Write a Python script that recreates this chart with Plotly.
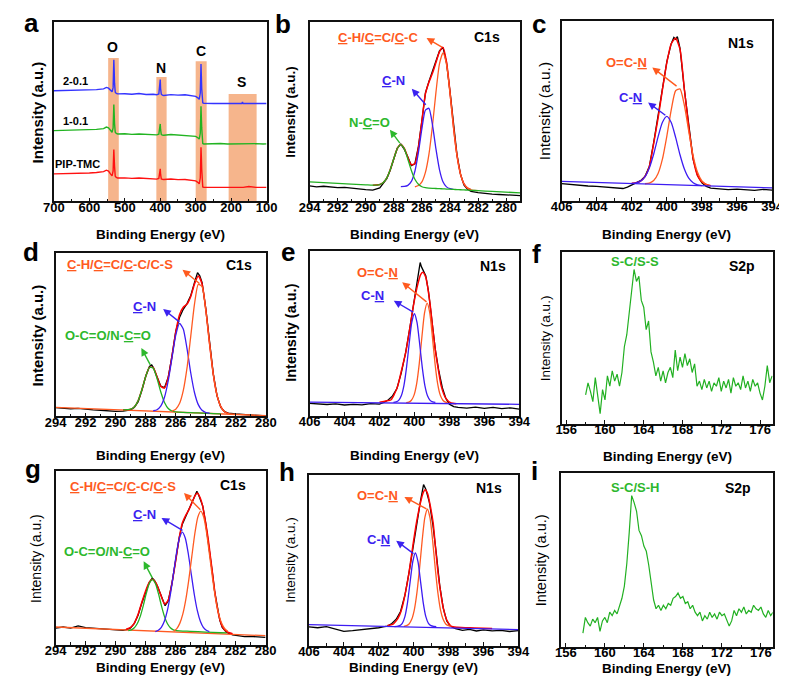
import plotly.graph_objects as go

# ---------------- (a) survey spectra ----------------
a_x = [700, 680, 660, 640, 620, 600, 580, 560, 552, 546, 540, 536, 533, 531, 530, 529, 527, 524, 520,
       500, 480, 460, 440, 420, 410, 404, 401, 400, 399, 397, 394, 390, 370, 350, 330, 310, 300, 294, 290,
       287, 285, 284, 283, 282, 280, 277, 270, 250, 230, 210, 190, 170, 168, 166, 150, 130, 110, 100]
a_2_01 = [61.8, 61.9, 61.7, 62.0, 62.1, 62.2, 62.4, 62.8, 63.6, 63.2, 62.0, 61.2, 63.5, 79.1, 73.0, 66.0, 61.0, 60.3, 60.0,
          60.1, 59.8, 60.2, 59.7, 59.8, 59.5, 60.0, 64.0, 68.0, 63.0, 59.8, 59.3, 59.1, 59.6, 59.3, 59.5, 59.0, 58.6, 57.8, 57.0,
          60.5, 76.7, 70.0, 63.0, 57.0, 55.0, 54.7, 54.6, 54.6, 54.7, 54.5, 54.6, 54.6, 55.4, 54.6, 54.7, 54.5, 54.6, 54.6]
a_1_01 = [39.5, 39.6, 39.4, 39.7, 39.8, 40.0, 40.2, 40.6, 41.5, 41.0, 39.6, 38.6, 41.0, 54.0, 49.0, 43.5, 38.6, 37.9, 37.6,
          37.7, 37.4, 37.6, 37.3, 37.4, 37.1, 37.5, 40.5, 43.2, 40.0, 37.3, 37.0, 36.9, 37.3, 37.0, 37.1, 36.7, 36.3, 35.5, 34.8,
          38.0, 53.1, 47.0, 41.0, 34.5, 32.3, 32.0, 32.1, 32.0, 32.3, 32.0, 32.1, 32.2, 32.0, 32.1, 32.0, 32.2, 32.0, 32.1]
a_pip = [15.3, 15.4, 15.2, 15.6, 15.5, 15.8, 16.1, 16.6, 17.4, 16.9, 15.2, 14.2, 17.0, 28.9, 24.0, 19.5, 14.0, 13.3, 13.0,
         13.1, 12.8, 13.0, 12.7, 12.8, 12.4, 12.8, 15.5, 18.1, 15.0, 12.5, 12.3, 12.2, 12.5, 12.1, 12.2, 11.8, 11.4, 10.6, 9.8,
         13.0, 30.2, 25.0, 18.0, 10.0, 8.0, 7.8, 7.8, 7.9, 7.8, 7.7, 7.8, 7.9, 7.8, 7.8, 8.3, 7.8, 7.8, 7.8]
a_band_names = ["O", "N", "C", "S"]
a_band_lo = [517, 382, 269, 128]
a_band_hi = [547, 411, 300, 207]
a_band_top = [80, 69.5, 78.2, 60]

# ---------------- (b) C1s ----------------
b_raw_x = [294, 293.5, 293, 292.5, 292, 291.5, 291, 290.5, 290, 289.5, 289, 288.75, 288.5, 288.25, 288, 287.75,
           287.5, 287.25, 287, 286.75, 286.5, 286.25, 286, 285.75, 285.5, 285.25, 285, 284.75, 284.5, 284.25, 284,
           283.75, 283.5, 283.25, 283, 282.75, 282.5, 282, 281.5, 281, 280.5, 280, 279.5, 279]
b_raw = [8.6, 8.1, 8.4, 7.9, 7.6, 7.8, 7.2, 6.9, 6.5, 6.2, 7.5, 9.8, 12.6, 17.5, 23.5, 29.8, 32.0, 29.0, 24.8, 20.0,
         21.0, 30.5, 45.0, 60.5, 67.0, 72.5, 78.5, 84.0, 86.0, 77.5, 61.5, 42.0, 26.0, 15.0, 9.0, 6.8, 5.6, 4.8, 4.2,
         4.0, 3.8, 3.6, 3.3, 3.2]
b_env_x = [289.5, 289, 288.75, 288.5, 288.25, 288, 287.75, 287.5, 287.25, 287, 286.75, 286.5, 286.25, 286, 285.75,
           285.5, 285.25, 285, 284.75, 284.5, 284.25, 284, 283.75, 283.5, 283.25, 283, 282.75, 282.5]
b_env = [9.0, 9.4, 10.5, 13.1, 17.8, 23.9, 29.5, 31.7, 29.5, 24.4, 20.4, 21.0, 30.0, 45.0, 60.0, 66.5, 71.5, 77.5,
         83.5, 86.0, 78.0, 61.0, 41.5, 25.5, 15.2, 9.7, 7.4, 6.5]
b_nco_x = [294, 292, 290, 289.5, 289, 288.75, 288.5, 288.25, 288, 287.75, 287.5, 287.25, 287, 286.75, 286.5, 286.25,
           286, 285.75, 285.5, 285.25, 285, 284.75, 284.5, 284.25, 284, 283.75, 283.5, 283.25, 283, 282.75, 282.5,
           282, 281, 279]
b_nco = [10.8, 10.0, 9.2, 9.03, 9.37, 10.5, 13.1, 17.8, 23.9, 29.5, 31.7, 29.3, 23.5, 17.2, 12.3, 9.5, 8.12, 7.6,
         7.38, 7.25, 7.15, 7.05, 6.95, 6.85, 6.75, 6.65, 6.55, 6.45, 6.35, 6.25, 6.15, 5.95, 5.5, 4.7]
b_cn_x = [287.5, 287.25, 287, 286.75, 286.5, 286.25, 286, 285.75, 285.5, 285.25, 285, 284.75, 284.5, 284.25, 284, 283.75]
b_cn = [8.23, 8.3, 8.9, 11.1, 16.8, 27.2, 40.55, 50.95, 51.95, 42.85, 29.25, 17.75, 10.95, 8.05, 7.02, 6.7]
b_ch_x = [286.5, 286.25, 286, 285.75, 285.5, 285.25, 285, 284.75, 284.5, 284.25, 284, 283.75, 283.5, 283.25, 283,
          282.75, 282.5, 282]
b_ch = [8.1, 8.8, 10.85, 16.15, 26.25, 42.05, 60.85, 76.75, 82.95, 76.55, 60.45, 41.45, 25.45, 15.15, 9.65, 7.35,
        6.45, 5.95]

# ---------------- (c) N1s ----------------
c_raw_x = [406, 405.5, 405, 404.5, 404, 403.5, 403, 402.5, 402.25, 402, 401.75, 401.5, 401.25, 401, 400.75, 400.5,
           400.25, 400, 399.75, 399.6, 399.5, 399.4, 399.25, 399, 398.75, 398.5, 398.25, 398, 397.75, 397.5, 397,
           396.5, 396, 395.5, 395, 394.5, 394]
c_raw = [9.5, 9.0, 8.7, 8.2, 8.0, 7.6, 7.2, 6.8, 7.6, 8.9, 9.8, 11.2, 13.5, 19.0, 32.5, 46.5, 62.5, 77.5, 87.5, 91.0,
         90.0, 91.5, 85.0, 62.0, 41.5, 23.0, 14.0, 10.0, 8.0, 7.0, 6.6, 6.2, 6.5, 6.0, 5.8, 6.3, 5.9]
c_env_x = [402, 401.75, 401.5, 401.25, 401, 400.75, 400.5, 400.25, 400, 399.75, 399.5, 399.25, 399, 398.75, 398.5,
           398.25, 398, 397.75, 397.5]
c_env = [9.7, 10.0, 10.9, 13.4, 19.0, 32.0, 46.0, 62.0, 77.0, 87.5, 90.5, 84.5, 62.0, 41.0, 23.5, 14.0, 10.5, 9.05, 8.3]
c_cn_x = [402, 401.75, 401.5, 401.25, 401, 400.75, 400.5, 400.25, 400, 399.75, 399.5, 399.25, 399, 398.75, 398.5,
          398.25, 398]
c_cn = [9.67, 9.97, 10.9, 13.3, 18.25, 26.05, 35.6, 43.7, 46.95, 43.55, 35.3, 25.6, 17.65, 12.55, 10.0, 8.87, 8.42]
c_ocn_x = [401.25, 401, 400.75, 400.5, 400.25, 400, 399.75, 399.5, 399.25, 399, 398.75, 398.5, 398.25, 398, 397.75, 397.5]
c_ocn = [9.44, 9.85, 11.25, 15.2, 23.3, 36.05, 50.65, 61.3, 62.3, 53.15, 38.65, 25.0, 15.8, 11.0, 9.05, 8.34]
c_base_x = [406, 394]
c_base = [10.8, 7.1]

# ---------------- (d) C1s ----------------
d_raw_x = [294, 293.5, 293, 292.5, 292, 291.5, 291, 290.5, 290, 289.5, 289, 288.75, 288.5, 288.25, 288, 287.75, 287.6,
           287.5, 287.25, 287, 286.75, 286.5, 286.25, 286, 285.75, 285.5, 285.25, 285, 284.75, 284.55, 284.4, 284.25,
           284, 283.75, 283.5, 283.25, 283, 282.75, 282.5, 282, 281.5, 281, 280.5, 280]
d_raw = [5.3, 5.0, 4.6, 4.8, 4.2, 3.9, 3.7, 3.3, 3.0, 3.2, 4.0, 5.5, 9.0, 16.0, 24.5, 30.5, 31.5, 30.0, 24.5, 18.5,
         17.5, 24.0, 37.0, 52.0, 60.5, 65.5, 69.0, 74.0, 82.0, 88.0, 86.0, 82.0, 66.0, 45.5, 26.0, 12.5, 5.5, 2.8, 1.9,
         1.4, 1.0, 0.8, 0.5, 0.3]
d_env_x = [289.5, 289, 288.75, 288.5, 288.25, 288, 287.75, 287.5, 287.25, 287, 286.75, 286.5, 286.25, 286, 285.75,
           285.5, 285.25, 285, 284.75, 284.5, 284.25, 284, 283.75, 283.5, 283.25, 283, 282.75, 282.5]
d_env = [3.89, 4.36, 5.89, 9.69, 16.4, 24.4, 29.9, 29.8, 24.2, 18.4, 17.3, 23.8, 36.9, 51.6, 62.2, 66.8, 68.7, 73.4,
         81.1, 85.9, 81.1, 65.4, 44.6, 25.7, 12.8, 5.9, 2.8, 1.7]
d_oco_x = [289.5, 289, 288.75, 288.5, 288.25, 288, 287.75, 287.5, 287.25, 287, 286.75, 286.5, 286.25, 286, 285.5,
           285, 284.5, 284, 283.5, 283]
d_oco = [3.89, 4.36, 5.89, 9.69, 16.4, 24.4, 29.9, 29.5, 23.2, 15.05, 8.46, 4.77, 3.25, 2.71, 2.4, 2.22, 2.04, 1.86,
         1.67, 1.49]
d_cn_x = [287.5, 287.25, 287, 286.75, 286.5, 286.25, 286, 285.75, 285.5, 285.25, 285, 284.75, 284.5, 284.25, 284, 283.75]
d_cn = [3.39, 4.04, 6.25, 11.66, 21.77, 35.78, 49.68, 56.89, 53.5, 41.41, 26.52, 14.43, 7.14, 3.65, 2.32, 1.87]
d_ch_x = [286.25, 286, 285.75, 285.5, 285.25, 285, 284.75, 284.5, 284.25, 284, 283.75, 283.5, 283.25, 283, 282.75,
          282.5, 282]
d_ch = [3.18, 4.38, 7.79, 15.7, 29.61, 49.12, 68.83, 80.84, 79.35, 64.96, 44.47, 25.67, 12.78, 5.89, 2.8, 1.71, 1.13]
d_base_x = [294, 280]
d_base = [5.5, 0.4]

# ---------------- (e) N1s ----------------
e_raw_x = [406, 405.5, 405, 404.5, 404, 403.5, 403, 402.5, 402, 401.75, 401.5, 401.25, 401, 400.75, 400.5, 400.25,
           400, 399.85, 399.75, 399.67, 399.6, 399.5, 399.35, 399.2, 399, 398.8, 398.6, 398.4, 398.2, 398, 397.75,
           397.5, 397, 396.5, 396, 395.5, 395, 394.5, 394]
e_raw = [7.5, 7.0, 6.8, 7.2, 6.5, 6.9, 6.6, 7.3, 7.0, 8.0, 9.5, 12.0, 16.5, 26.0, 38.5, 54.0, 70.0, 79.0, 86.0, 93.0,
         90.5, 88.5, 85.0, 76.0, 58.0, 40.0, 27.0, 17.0, 10.5, 7.0, 5.5, 5.0, 4.6, 5.2, 4.4, 5.0, 4.3, 4.8, 4.0]
e_env_x = [402, 401.75, 401.5, 401.33, 401.15, 400.96, 400.75, 400.5, 400.25, 400.03, 399.8, 399.65, 399.52, 399.35,
           399.11, 398.95, 398.78, 398.6, 398.46, 398.2, 397.9, 397.6]
e_env = [8.2, 8.6, 9.2, 9.7, 13.0, 17.8, 27.0, 38.1, 54.0, 68.4, 80.0, 85.5, 87.1, 84.0, 68.4, 53.0, 38.1, 26.0, 17.8,
         10.5, 7.7, 7.3]
e_cn_x = [401.2, 401.05, 400.9, 400.75, 400.6, 400.45, 400.3, 400.15, 400, 399.85, 399.7, 399.55, 399.4, 399.25,
          399.1, 398.95, 398.8]
e_cn = [8.07, 8.34, 9.3, 12.1, 18.3, 29.3, 43.7, 56.6, 61.9, 56.6, 43.7, 29.3, 18.3, 12.1, 9.3, 8.34, 8.07]
e_ocn_x = [400.47, 400.32, 400.17, 400.02, 399.87, 399.72, 399.57, 399.42, 399.27, 399.12, 398.97, 398.82, 398.67,
           398.52, 398.37, 398.22, 398.07]
e_ocn = [7.97, 8.29, 9.4, 12.5, 19.5, 31.8, 47.9, 62.4, 68.3, 62.4, 47.9, 31.8, 19.5, 12.5, 9.4, 8.29, 7.97]
e_base_x = [406, 394]
e_base = [8.3, 6.9]

# ---------------- (f) S2p ----------------
f_x = [158.0, 158.25, 158.5, 158.75, 159.0, 159.25, 159.5, 159.75, 160.0, 160.25, 160.5, 160.75, 161.0, 161.25,
       161.5, 161.75, 162.0, 162.25, 162.5, 162.75, 163.0, 163.25, 163.5, 163.75, 164.0, 164.25, 164.5, 164.75,
       165.0, 165.25, 165.5, 165.75, 166.0, 166.25, 166.5, 166.75, 167.0, 167.25, 167.5, 167.75, 168.0, 168.25,
       168.5, 168.75, 169.0, 169.25, 169.5, 169.75, 170.0, 170.25, 170.5, 170.75, 171.0, 171.25, 171.5, 171.75,
       172.0, 172.25, 172.5, 172.75, 173.0, 173.25, 173.5, 173.75, 174.0, 174.25, 174.5, 174.75, 175.0, 175.25,
       175.5, 175.75, 176.0, 176.25, 176.5, 176.75, 177.0, 177.25]
f_y = [17, 24, 19, 13, 27, 16, 6, 20, 14, 28, 22, 31, 25, 29, 22, 30, 45, 52, 66, 78, 90, 83, 86, 72, 68, 55, 60, 42,
       36, 28, 33, 25, 31, 24, 30, 33, 27, 43, 31, 39, 33, 41, 34, 38, 30, 35, 22, 25, 20, 26, 21, 25, 19, 24, 22, 27,
       19, 25, 21, 26, 18, 27, 22, 24, 20, 28, 21, 25, 19, 26, 22, 24, 18, 14, 22, 34, 24, 28]

# ---------------- (g) C1s ----------------
g_raw_x = [294, 293.5, 293, 292.5, 292, 291.5, 291, 290.5, 290, 289.5, 289.2, 289, 288.75, 288.5, 288.25, 288, 287.75,
           287.55, 287.4, 287.2, 287, 286.8, 286.7, 286.5, 286.25, 286, 285.75, 285.55, 285.3, 285.1, 284.9, 284.7,
           284.58, 284.45, 284.3, 284.19, 284, 283.82, 283.68, 283.54, 283.4, 283.24, 283.05, 282.89, 282.6, 282.2,
           281.8, 281.4, 281, 280.5, 280]
g_raw = [9.5, 10.2, 9.6, 10.8, 9.9, 9.6, 9.2, 9.0, 8.6, 8.3, 8.8, 9.6, 12.3, 17.0, 24.0, 30.5, 36.0, 38.5, 37.0, 33.5,
         29.0, 24.0, 22.5, 25.0, 35.0, 48.5, 62.0, 69.5, 74.5, 78.5, 82.5, 86.5, 88.5, 86.0, 83.0, 80.0, 70.5, 60.0,
         51.0, 41.0, 31.0, 22.0, 14.0, 10.0, 7.0, 5.6, 5.0, 4.6, 4.8, 4.4, 4.2]
g_env_x = [289.3, 289, 288.75, 288.5, 288.25, 288, 287.75, 287.55, 287.3, 287, 286.73, 286.5, 286.25, 286, 285.75,
           285.55, 285.3, 285.11, 284.9, 284.7, 284.55, 284.35, 284.19, 284.0, 283.82, 283.68, 283.54, 283.4, 283.24,
           283.05, 282.89, 282.6, 282.2]
g_env = [8.9, 10.0, 12.5, 17.5, 24.5, 31.0, 36.0, 37.8, 35.5, 29.0, 23.5, 25.5, 35.0, 48.0, 62.0, 70.2, 75.0, 77.9,
         82.0, 86.0, 87.5, 84.5, 79.8, 70.5, 60.6, 51.0, 41.4, 31.5, 22.2, 14.5, 10.6, 7.5, 6.3]
g_oco_x = [289.15, 288.95, 288.75, 288.55, 288.35, 288.15, 287.95, 287.75, 287.55, 287.35, 287.15, 286.95, 286.75,
           286.55, 286.35, 286.15, 285.95, 285.0, 284.0, 283.0, 282.6]
g_oco = [8.1, 8.6, 9.8, 12.2, 16.5, 22.7, 29.7, 35.3, 37.5, 35.3, 29.7, 22.7, 16.5, 12.2, 9.8, 8.6, 8.1, 7.7, 7.3, 6.9,
         6.8]
g_cn_x = [287.35, 287.15, 286.95, 286.75, 286.55, 286.35, 286.15, 285.95, 285.75, 285.55, 285.35, 285.15, 284.95,
          284.75, 284.55, 284.35, 284.15, 283.95, 283.75]
g_cn = [7.6, 8.3, 10.0, 13.5, 19.6, 28.8, 40.4, 52.3, 61.4, 64.9, 61.4, 52.3, 40.4, 28.8, 19.6, 13.5, 10.0, 8.3, 7.6]
g_ch_x = [286.12, 285.92, 285.72, 285.52, 285.32, 285.12, 284.92, 284.72, 284.52, 284.32, 284.12, 283.92, 283.72,
          283.52, 283.32, 283.12, 282.92, 282.72, 282.52]
g_ch = [7.8, 9.3, 12.3, 17.6, 26.0, 37.4, 50.8, 63.9, 73.5, 77.0, 73.4, 63.8, 50.7, 37.3, 25.9, 17.5, 12.2, 9.2, 7.7]
g_base_x = [294, 280]
g_base = [10.2, 5.2]

# ---------------- (h) N1s ----------------
h_raw_x = [406, 405.5, 405, 404.5, 404, 403.5, 403, 402.5, 402, 401.75, 401.5, 401.25, 401, 400.75, 400.5, 400.25,
           400, 399.8, 399.6, 399.43, 399.3, 399.1, 398.9, 398.7, 398.5, 398.3, 398.1, 397.9, 397.6, 397.2, 396.8,
           396.4, 396, 395.5, 395, 394.5, 394]
h_raw = [11.0, 10.5, 11.2, 10.0, 8.4, 8.8, 9.3, 10.0, 10.5, 11.0, 11.5, 13.0, 15.5, 20.0, 29.5, 43.5, 60.0, 74.0,
         85.0, 94.2, 91.5, 84.0, 71.0, 54.0, 35.0, 22.0, 14.5, 11.5, 10.0, 9.0, 9.5, 8.6, 9.2, 8.7, 9.0, 8.3, 8.8]
h_env_x = [401.5, 401.2, 401, 400.8, 400.64, 400.45, 400.27, 400.05, 399.84, 399.6, 399.45, 399.34, 399.2, 399.05,
           398.88, 398.75, 398.6, 398.45, 398.32, 398.1, 397.86, 397.5, 396.5, 395.5]
h_env = [11.8, 12.5, 14.5, 18.0, 23.0, 32.0, 42.5, 58.0, 71.8, 84.0, 89.5, 91.2, 89.0, 82.0, 71.8, 58.0, 42.5, 31.0,
         23.0, 15.0, 11.5, 10.8, 10.4, 10.0]
h_cn_x = [401.1, 400.95, 400.8, 400.65, 400.5, 400.35, 400.2, 400.05, 399.9, 399.75, 399.6, 399.45, 399.3, 399.15,
          399.0, 398.85, 398.7]
h_cn = [11.2, 11.3, 11.7, 13.1, 17.0, 25.2, 37.3, 49.1, 54.2, 49.1, 37.3, 25.2, 17.0, 13.1, 11.7, 11.3, 11.2]
h_ocn_x = [400.56, 400.41, 400.26, 400.11, 399.96, 399.81, 399.66, 399.51, 399.36, 399.21, 399.06, 398.91, 398.76,
           398.61, 398.46, 398.31, 398.16, 398.01, 397.86]
h_ocn = [11.3, 11.7, 12.7, 15.4, 21.0, 31.0, 45.2, 61.5, 74.7, 79.8, 74.7, 61.5, 45.2, 31.0, 21.0, 15.4, 12.7, 11.7,
         11.3]
h_base_x = [406, 394]
h_base = [12.3, 9.4]

# ---------------- (i) S2p ----------------
i_x = [157.75, 158.0, 158.25, 158.5, 158.75, 159.0, 159.25, 159.5, 159.75, 160.0, 160.25, 160.5, 160.75, 161.0,
       161.25, 161.5, 161.75, 162.0, 162.25, 162.5, 162.75, 163.0, 163.25, 163.5, 163.75, 164.0, 164.25, 164.5,
       164.75, 165.0, 165.25, 165.5, 165.75, 166.0, 166.25, 166.5, 166.75, 167.0, 167.25, 167.5, 167.75, 168.0,
       168.25, 168.5, 168.75, 169.0, 169.25, 169.5, 169.75, 170.0, 170.25, 170.5, 170.75, 171.0, 171.25, 171.5,
       171.75, 172.0, 172.25, 172.5, 172.75, 173.0, 173.25, 173.5, 173.75, 174.0, 174.25, 174.5, 174.75, 175.0,
       175.25, 175.5, 175.75, 176.0, 176.25, 176.5, 176.75, 177.0, 177.25]
i_y = [8, 17, 14, 12, 16, 14, 17, 9, 15, 17, 14, 20, 18, 21, 19, 24, 28, 35, 48, 66, 87, 83, 78, 67, 64, 58, 55, 47,
       36, 27, 22, 24, 21, 24, 22, 25, 24, 28, 29, 31, 28, 29, 25, 26, 22, 24, 20, 18, 20, 15, 18, 16, 20, 17, 19, 16,
       20, 18, 19, 16, 12, 15, 21, 18, 22, 20, 23, 19, 21, 20, 24, 22, 21, 23, 19, 17, 21, 18, 20]

# ---------------- styling / layout ----------------
W, H = 787, 677
FONT = "Liberation Sans, Arial, sans-serif"
BLACK = "#000000"
ENV_RED = "#FF0000"
COMP_OR = "#FF5A22"
BLUE = "#3D1CF2"
GREEN = "#22B022"
LBL_OR = "#FF5A1E"
LBL_BLUE = "#3B22F0"
LBL_GREEN = "#2DB82D"
BAND = "#F6B58C"

# panel boxes in pixels: left, top, right, bottom
boxes = {
    "a": (36, 14.3, 255, 193.3), "b": (299.3, 14.3, 516.3, 193.3), "c": (559, 13.3, 775.7, 192.7),
    "d": (37.7, 245, 254.3, 408.3), "e": (299.3, 243, 515.3, 407.7), "f": (559.7, 244.3, 776.3, 416),
    "g": (37.7, 463.3, 254, 636.7), "h": (298.7, 466.7, 514.3, 637.7), "i": (558.3, 465, 776.3, 639),
}
xranges = {"a": [700, 100], "b": [294, 279], "c": [406, 394], "d": [294, 280], "e": [406, 394],
           "f": [155.6, 177.3], "g": [294, 280], "h": [406, 394], "i": [155.5, 177.2]}
xticks = {"a": (100, 100, 50), "b": (280, 2, 1), "c": (394, 2, 1), "d": (280, 2, 1), "e": (394, 2, 1),
          "f": (156, 4, 2), "g": (280, 2, 1), "h": (394, 2, 1), "i": (156, 4, 2)}
order = ["a", "b", "c", "d", "e", "f", "g", "h", "i"]
ax_id = {n: ("" if k == 0 else str(k + 1)) for k, n in enumerate(order)}

fig = go.Figure()
layout = dict(width=W, height=H, margin=dict(l=0, r=0, t=0, b=0), paper_bgcolor="white",
              plot_bgcolor="white", showlegend=False, font=dict(family=FONT, color=BLACK))

for n in order:
    idx = ax_id[n]
    l, t, r, b = boxes[n]
    t0, dt, mdt = xticks[n]
    layout["xaxis" + idx] = dict(domain=[l / W, r / W], anchor="y" + idx, range=xranges[n],
                                 showline=True, linecolor="#111", linewidth=1.6, mirror=True,
                                 ticks="inside", ticklen=4, tickwidth=1.2, tickcolor="#111",
                                 tick0=t0, dtick=dt, ticklabelstandoff=-7,
                                 minor=dict(ticks="inside", ticklen=2.5, dtick=mdt, tick0=t0, tickcolor="#111"),
                                 tickfont=dict(family=FONT, size=13, color=BLACK, weight="bold"),
                                 showgrid=False, zeroline=False, fixedrange=True)
    layout["yaxis" + idx] = dict(domain=[1 - b / H, 1 - t / H], anchor="x" + idx, range=[0, 100],
                                 showline=True, linecolor="#111", linewidth=1.6, mirror=True,
                                 ticks="", showticklabels=False, showgrid=False, zeroline=False,
                                 fixedrange=True)


def line(n, x, y, color, width=1.4, shape="linear"):
    idx = ax_id[n]
    fig.add_trace(go.Scatter(x=x, y=y, mode="lines", xaxis="x" + idx, yaxis="y" + idx,
                             line=dict(color=color, width=width, shape=shape, smoothing=0.6),
                             hoverinfo="skip", showlegend=False))


# (a)
line("a", a_x, a_pip, "#FF1111", 1.4)
line("a", a_x, a_1_01, "#22B422", 1.4)
line("a", a_x, a_2_01, "#3333FF", 1.4)

# (b)
line("b", b_raw_x, b_raw, BLACK, 1.3)
line("b", b_env_x, b_env, ENV_RED, 1.5, "spline")
line("b", b_ch_x, b_ch, COMP_OR, 1.3, "spline")
line("b", b_cn_x, b_cn, BLUE, 1.3, "spline")
line("b", b_nco_x, b_nco, GREEN, 1.3, "spline")

# (c)
line("c", c_raw_x, c_raw, BLACK, 1.3)
line("c", c_env_x, c_env, ENV_RED, 1.5, "spline")
line("c", c_ocn_x, c_ocn, COMP_OR, 1.3, "spline")
line("c", c_cn_x, c_cn, BLUE, 1.3, "spline")
line("c", c_base_x, c_base, BLUE, 1.3)

# (d)
line("d", d_raw_x, d_raw, BLACK, 1.3)
line("d", d_base_x, d_base, COMP_OR, 1.3)
line("d", d_env_x, d_env, ENV_RED, 1.5, "spline")
line("d", d_oco_x, d_oco, GREEN, 1.3, "spline")
line("d", d_cn_x, d_cn, BLUE, 1.3, "spline")
line("d", d_ch_x, d_ch, COMP_OR, 1.3, "spline")

# (e)
line("e", e_raw_x, e_raw, BLACK, 1.3)
line("e", e_env_x, e_env, ENV_RED, 1.5, "spline")
line("e", e_ocn_x, e_ocn, COMP_OR, 1.3, "spline")
line("e", e_cn_x, e_cn, BLUE, 1.3, "spline")
line("e", e_base_x, e_base, BLUE, 1.3)

# (f)
line("f", f_x, f_y, GREEN, 1.2)

# (g)
line("g", g_raw_x, g_raw, BLACK, 1.3)
line("g", g_base_x, g_base, COMP_OR, 1.3)
line("g", g_env_x, g_env, ENV_RED, 1.5, "spline")
line("g", g_oco_x, g_oco, GREEN, 1.3, "spline")
line("g", g_cn_x, g_cn, BLUE, 1.3, "spline")
line("g", g_ch_x, g_ch, COMP_OR, 1.3, "spline")

# (h)
line("h", h_raw_x, h_raw, BLACK, 1.3)
line("h", h_env_x, h_env, ENV_RED, 1.5, "spline")
line("h", h_ocn_x, h_ocn, COMP_OR, 1.3, "spline")
line("h", h_cn_x, h_cn, BLUE, 1.3, "spline")
line("h", h_base_x, h_base, BLUE, 1.3)

# (i)
line("i", i_x, i_y, GREEN, 1.2)

# ---------------- shapes (orange element bands in a) ----------------
shapes = []
for lo, hi, top in zip(a_band_lo, a_band_hi, a_band_top):
    shapes.append(dict(type="rect", xref="x", yref="y", x0=lo, x1=hi, y0=0, y1=top,
                       fillcolor=BAND, line=dict(width=0), layer="below"))
layout["shapes"] = shapes

# ---------------- annotations ----------------
ann = []


def text(n, x, y, s, color=BLACK, size=13, bold=True):
    idx = ax_id[n]
    ann.append(dict(x=x, y=y, xref="x" + idx, yref="y" + idx, text=s, showarrow=False,
                    font=dict(family=FONT, size=size, color=color, weight="bold" if bold else "normal"),
                    xanchor="center", yanchor="middle"))


def arrow(n, hx, hy, tx, ty, color):
    idx = ax_id[n]
    ann.append(dict(x=hx, y=hy, ax=tx, ay=ty, xref="x" + idx, yref="y" + idx,
                    axref="x" + idx, ayref="y" + idx, text="", showarrow=True,
                    arrowhead=2, arrowsize=1.1, arrowwidth=1.4, arrowcolor=color,
                    standoff=0, startstandoff=0))


def paper_text(px, py, s, size, bold=True, angle=0):
    ann.append(dict(x=px / W, y=1 - py / H, xref="paper", yref="paper", text=s, showarrow=False,
                    textangle=angle, xanchor="center", yanchor="middle",
                    font=dict(family=FONT, size=size, color=BLACK, weight="bold" if bold else "normal")))


# panel a labels
a_label_x = [534, 398, 285, 170]
a_label_y = [86, 74.5, 84, 66.7]
for s, lx, ly in zip(a_band_names, a_label_x, a_label_y):
    text("a", lx, ly, s, size=14)
text("a", 639, 67.4, "2-0.1", size=11)
text("a", 639, 44.7, "1-0.1", size=11)
text("a", 634, 20.9, "PIP-TMC", size=11)

# panel b
text("b", 289.1, 91.6, "<u>C</u>-H/<u>C</u>=C/<u>C</u>-C", LBL_OR, 13)
text("b", 281.4, 91.6, "C1s", BLACK, 14)
text("b", 288.05, 67.4, "<u>C</u>-N", LBL_BLUE, 13)
text("b", 289.7, 43.8, "N-<u>C</u>=O", LBL_GREEN, 13)
arrow("b", 285.67, 91.2, 284.47, 85.7, LBL_OR)
arrow("b", 286.72, 62.9, 285.63, 53.1, LBL_BLUE)
arrow("b", 288.28, 40.0, 287.49, 31.7, LBL_GREEN)

# panel c
text("c", 395.76, 87.9, "N1s", BLACK, 14)
text("c", 402.3, 77.3, "O=C-<u>N</u>", LBL_OR, 13)
text("c", 402.07, 57.8, "C-<u>N</u>", LBL_BLUE, 13)
arrow("c", 400.83, 74.3, 399.36, 63.2, LBL_OR)
arrow("c", 401.07, 54.8, 400.0, 47.0, LBL_BLUE)

# panel d
text("d", 289.71, 92.9, "<u>C</u>-H/<u>C</u>=C/<u>C</u>-C/C-S", LBL_OR, 13)
text("d", 281.78, 92.9, "C1s", BLACK, 14)
text("d", 288.07, 67.3, "<u>C</u>-N", LBL_BLUE, 13)
text("d", 290.5, 49.6, "O-C=O/N-<u>C</u>=O", LBL_GREEN, 13)
arrow("d", 285.55, 89.8, 284.32, 80.6, LBL_OR)
arrow("d", 286.84, 65.7, 285.66, 57.1, LBL_BLUE)
arrow("d", 288.29, 41.8, 287.64, 30.6, LBL_GREEN)

# panel e
text("e", 395.48, 91.1, "N1s", BLACK, 14)
text("e", 402.11, 87.1, "O=C-<u>N</u>", LBL_OR, 13)
text("e", 402.42, 72.9, "C-<u>N</u>", LBL_BLUE, 13)
arrow("e", 400.7, 81.0, 399.22, 68.4, LBL_OR)
arrow("e", 401.18, 69.8, 399.98, 62.4, LBL_BLUE)

# panel f
text("f", 163.06, 94.8, "S-C/S-S", LBL_GREEN, 13)
text("f", 174.1, 91.8, "S2p", BLACK, 14)

# panel g
text("g", 289.5, 91.4, "<u>C</u>-H/<u>C</u>=C/<u>C</u>-C/<u>C</u>-S", LBL_OR, 13)
text("g", 282.2, 92.3, "C1s", BLACK, 14)
text("g", 288.07, 75.0, "<u>C</u>-N", LBL_BLUE, 13)
text("g", 290.6, 53.9, "O-C=O/N-<u>C</u>=O", LBL_GREEN, 13)
arrow("g", 285.44, 87.5, 284.25, 77.0, LBL_OR)
arrow("g", 286.94, 73.1, 285.44, 65.4, LBL_BLUE)
arrow("g", 288.13, 48.1, 287.49, 37.5, LBL_GREEN)

# panel h
text("h", 395.7, 92.2, "N1s", BLACK, 14)
text("h", 402.07, 87.7, "O=C-<u>N</u>", LBL_OR, 13)
text("h", 402.0, 62.0, "C-<u>N</u>", LBL_BLUE, 13)
arrow("h", 400.53, 87.0, 399.18, 79.5, LBL_OR)
arrow("h", 401.0, 61.4, 399.92, 53.2, LBL_BLUE)

# panel i
text("i", 163.04, 91.4, "S-C/S-H", LBL_GREEN, 13)
text("i", 173.7, 91.4, "S2p", BLACK, 14)

# panel letters
letters = {"a": (13.3, 14.5), "b": (272, 16), "c": (535.7, 16), "d": (12.5, 244), "e": (277, 244),
           "f": (533, 246), "g": (14, 461), "h": (276, 464), "i": (531.5, 463)}
for n in order:
    px, py = letters[n]
    paper_text(px, py, n, 26, True)

# axis titles
xt_y = {"a": 226.7, "b": 226.7, "c": 226.7, "d": 447.5, "e": 447.5, "f": 448.3, "g": 659, "h": 659, "i": 660}
yt = {"a": (20, 104, 15, True), "b": (280, 104, 13.5, True), "c": (542, 103, 15.5, False),
      "d": (19, 327, 15, True), "e": (280, 325, 14.5, True), "f": (542, 330, 13.5, False),
      "g": (17.5, 550, 14, False), "h": (279, 552, 13.5, False), "i": (538, 552, 14.5, False)}
for n in order:
    l, t, r, b = boxes[n]
    paper_text((l + r) / 2, xt_y[n], "Binding Energy (eV)", 13.5, True)
    px, py, sz, bd = yt[n]
    paper_text(px, py, "Intensity (a.u.)", sz, bd, -90)

layout["annotations"] = ann
fig.update_layout(**layout)
fig.write_html("out.html")
